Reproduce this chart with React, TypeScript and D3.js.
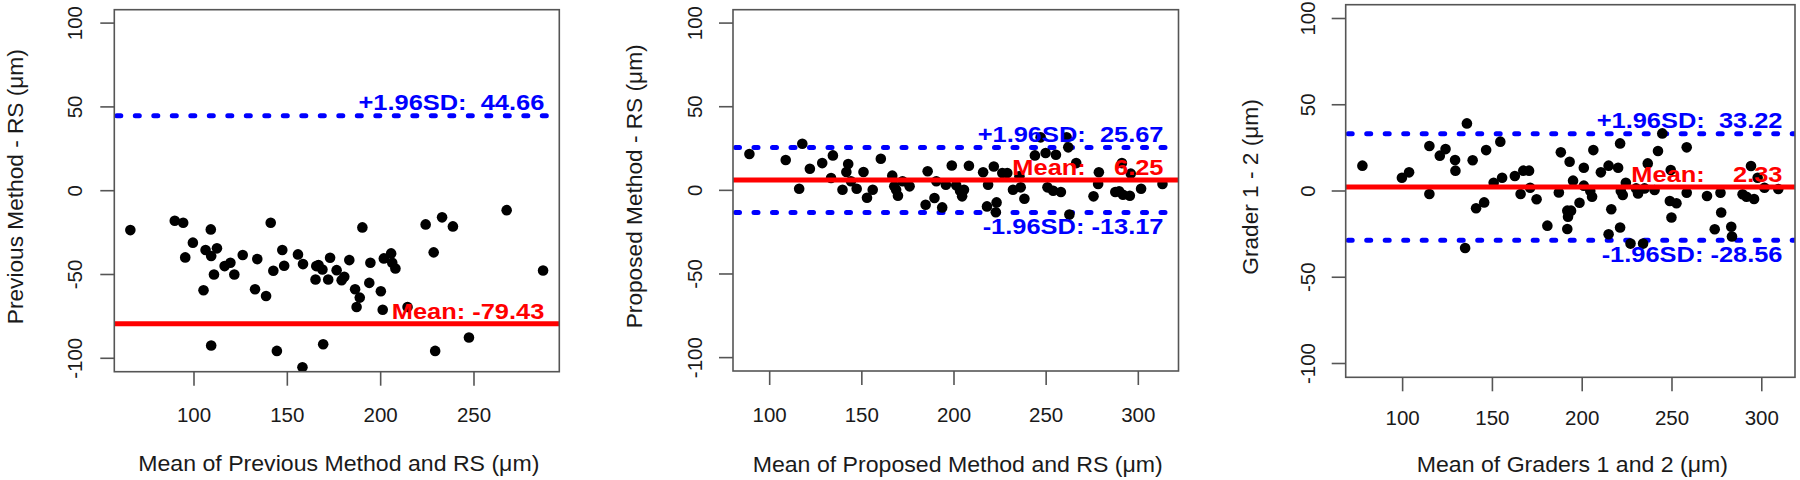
import React from 'react';
import * as d3 from 'd3';

// ---------- data ----------
const p1X = [65.9, 89.7, 94.2, 99.4, 109, 141.1, 190.2, 224.1, 232.9, 238.7, 267.5,
  95.3, 106.2, 109.2, 112.3, 110.7, 105.1, 109.2, 116.4, 119.5, 121.6, 126.1, 133.9, 132.7, 138.6,
  142.5, 147.3, 148.3, 144.4, 155.7, 158.4, 158.1, 165.5, 166.7, 168.8, 165.1, 171.9, 169.2, 172.9,
  176.4, 179.1, 180.5, 183.2, 186.3, 188.8, 187.1, 193.9, 194.5, 200.1, 201.1, 201.7, 205.6, 206.2,
  207.9, 214.4, 228.4, 229.2, 247.3, 287];
const p1Y = [-23.5, -17.9, -19.1, -31, -23.1, -19.1, -21.9, -20.1, -15.9, -21.3, -11.6,
  -39.8, -35.4, -39, -34.4, -50, -59.4, -92.4, -45, -43, -50, -38.4, -40.8, -58.8, -62.8,
  -47.8, -35.4, -44.8, -95.6, -38, -43.8, -105.4, -45, -44.4, -47, -53, -53, -91.6, -40,
  -47.4, -53.4, -51.4, -41.4, -58.8, -63.8, -69.4, -55, -43, -60, -71, -40.4, -37.4, -43,
  -46.4, -69.4, -36.8, -95.6, -87.6, -47.6];

const p2X = [89, 108.7, 116, 117.7, 121.8, 128.5, 133.3, 134.3, 139.5, 142.6, 141.6, 144.1, 147.2,
  150.9, 152.8, 155.9, 160.3, 166.5, 167.6, 168.6, 169.6, 172.1, 175.9, 185.7, 184.6, 189.4, 190.4,
  193.6, 195.6, 198.8, 201.2, 203.3, 204.4, 205.4, 208.1, 215.8, 218.5, 217.9, 223.1, 222.7, 221.6,
  226.2, 228.9, 232, 236.2, 238.2, 235.5, 243.9, 247, 249.7, 250.7, 253.8, 255.3, 258, 261.1, 262,
  262.6, 266.3, 275.7, 278.2, 278.6, 287.5, 289.6, 291.7, 295.4, 291.1, 295.9, 301.5, 313.1];
const p2Y = [21.7, 18.1, 1, 27.9, 12.9, 16.3, 7.4, 20.9, 0.4, 15.7, 11, 5.4, 1,
  11, -4.4, 0.4, 18.9, 8.8, 2.4, 0.4, -3.2, 5.4, 2.4, 11.4, -8.6, -4.6, 5.4,
  -10.2, 3.4, 14.9, 3, -0.2, -3.6, 0.4, 14.7, 10.8, 3.4, -9.6, -7.2, -13.1, 14.3,
  10.4, 10.4, 0.4, 1.8, -5, 8.4, 20.9, 31.7, 22.3, 1.8, -0.2, 21.3, -1, 31.7, 25.7,
  -14.5, 16.3, -3.6, 3.8, 10.8, -1, -0.6, -2.6, -3.2, 16.3, 10, 1, 3.8];

const p3X = [77.6, 99.6, 103.6, 114.9, 114.9, 120.7, 123.9, 129.2, 129.4, 135.8, 139, 140.9, 145.4,
  146.5, 150.7, 154.4, 155.4, 162.5, 165.7, 167.2, 170.4, 171, 174.6, 180.6, 187, 188.1, 193,
  191.7, 192.1, 193.8, 191.7, 194.9, 198.5, 200.9, 200.9, 204.5, 205.5, 206.2, 210.4, 214.7, 216.2,
  214.7, 220, 221.1, 221.1, 221.5, 222.6, 224.3, 230, 231.1, 234.7, 236.5, 240.3, 242.2, 244.6,
  249.3, 248.8, 249.7, 252.5, 258.2, 258.2, 269.5, 273.8, 277, 277.4, 283, 283.4, 289.3, 291.5,
  294, 295.7, 297.7, 301.5, 309.2, 134.8, 226.9, 233.9];
const p3Y = [14.7, 7.7, 10.8, 26.1, -1.7, 20.5, 24.3, 18, 11.8, 39.2, 17.8, -10, -6.6,
  23.7, 4.8, 28.6, 7.7, 8.7, -1.7, 11.8, 11.8, 1.9, -4.8, -20.1, -0.8, 22.4, 17,
  -11.4, -14.9, -11.4, -22, 6, -6.8, 13.5, 3.1, 0, -3.3, 23.7, 10.8, 14.7, -10.6,
  -25.1, 13.5, 27.6, -21.2, 0, -2.3, 4.8, 1.5, -1.4, 1.5, 16, 0.6, 23.2, 33.4,
  12.2, -5.8, -15.4, -7.1, 25.3, -1, -2.9, -22.2, -1, -12.5, -20.7, -26.4, -1.9, -3.3,
  14.5, -4.6, 7.7, 1.9, 1.2, -33, -30.5, -30.5];

const upperSD = [44.66, 25.67, 33.22];
const meanDiff = [-79.43, 6.25, 2.33];
const lowerSD = [-203.52, -13.17, -28.56];
const upperText = ['+1.96SD:  44.66', '+1.96SD:  25.67', '+1.96SD:  33.22'];
const meanText = ['Mean: -79.43', 'Mean:    6.25', 'Mean:    2.33'];
const lowerText = ['-1.96SD: -203.52', '-1.96SD: -13.17', '-1.96SD: -28.56'];
const xTitles = ['Mean of Previous Method and RS (\u03bcm)', 'Mean of Proposed Method and RS (\u03bcm)', 'Mean of Graders 1 and 2 (\u03bcm)'];
const yTitles = ['Previous Method - RS (\u03bcm)', 'Proposed Method - RS (\u03bcm)', 'Grader 1 - 2 (\u03bcm)'];
const xTicks = [[100, 150, 200, 250], [100, 150, 200, 250, 300], [100, 150, 200, 250, 300]];
const yTicks = [-100, -50, 0, 50, 100];
const xDomains = [[57.3, 295.7], [80.1, 321.8], [68.3, 318.5]];
const yDomain = [-108, 108];

// ---------- layout ----------
const layouts = [
  { left: 114.3, right: 559.3, top: 9.7, bottom: 371.7, yLabX: 81.7, yTitleX: 23, tickLabY: 421.7, titleY: 471, labInset: 15 },
  { left: 733, right: 1178.5, top: 9.7, bottom: 371, yLabX: 701.5, yTitleX: 642, tickLabY: 421.7, titleY: 471.5, labInset: 15 },
  { left: 1345.7, right: 1795, top: 4.7, bottom: 377.3, yLabX: 1315, yTitleX: 1258, tickLabY: 425, titleY: 472, labInset: 12.5 },
];

const FONT = "'Liberation Sans', Arial, Helvetica, sans-serif";
const AXIS = '#555';
const TXT = '#1a1a1a';
const LAB_SIZE = 22.5;
const LAB_SX = 1.13;
const TITLE_SIZE = 21.5;
const TITLE_SX = 1.075;

function Label({ x, y, text, color }: { x: number; y: number; text: string; color: string }) {
  return (
    <text
      transform={`translate(${x},${y}) scale(${LAB_SX},1)`}
      textAnchor="end"
      fontFamily={FONT}
      fontWeight="bold"
      fontSize={LAB_SIZE}
      fill={color}
      xmlSpace="preserve"
      style={{ whiteSpace: 'pre' }}
    >
      {text}
    </text>
  );
}

function Panel({ i }: { i: number }) {
  const L = layouts[i];
  const xs = [p1X, p2X, p3X][i];
  const ys = [p1Y, p2Y, p3Y][i];
  const x = d3.scaleLinear().domain(xDomains[i]).range([L.left, L.right]);
  const y = d3.scaleLinear().domain(yDomain).range([L.bottom, L.top]);
  const clipId = `clip${i}`;
  const tick = 14;
  const labRight = L.right - L.labInset;
  const cy = (L.top + L.bottom) / 2 - 4;
  const cx = (L.left + L.right) / 2 + 2;
  const lineGen = d3.line<number>().x((d) => d).y(0);
  return (
    <g>
      <defs>
        <clipPath id={clipId}>
          <rect x={L.left} y={L.top} width={L.right - L.left} height={L.bottom - L.top} />
        </clipPath>
      </defs>
      <g clipPath={`url(#${clipId})`}>
        {[upperSD[i], lowerSD[i]].map((v, k) => (
          <g key={k} transform={`translate(0,${y(v)})`}>
            <path d={lineGen([L.left + 2.5, L.right]) || ''} stroke="#0000ff" strokeWidth={5} strokeDasharray="4 14.5" strokeLinecap="round" fill="none" />
          </g>
        ))}
        {xs.map((v, k) => (
          <circle key={k} cx={x(v)} cy={y(ys[k])} r={5.3} fill="#000" />
        ))}
        <line x1={L.left} x2={L.right} y1={y(meanDiff[i])} y2={y(meanDiff[i])} stroke="#ff0000" strokeWidth={5} />
      </g>
      {y(upperSD[i]) > L.top && <Label x={labRight} y={y(upperSD[i]) - 5.5} text={upperText[i]} color="#0000ff" />}
      <Label x={labRight} y={y(meanDiff[i]) - 5} text={meanText[i]} color="#ff0000" />
      {y(lowerSD[i]) < L.bottom && <Label x={labRight} y={y(lowerSD[i]) + 21.5} text={lowerText[i]} color="#0000ff" />}
      <rect x={L.left} y={L.top} width={L.right - L.left} height={L.bottom - L.top} fill="none" stroke={AXIS} strokeWidth={1.6} />
      {xTicks[i].map((t) => (
        <g key={t}>
          <line x1={x(t)} x2={x(t)} y1={L.bottom} y2={L.bottom + tick} stroke={AXIS} strokeWidth={1.6} />
          <text x={x(t)} y={L.tickLabY} textAnchor="middle" fontFamily={FONT} fontSize={20.5} fill={TXT}>{t}</text>
        </g>
      ))}
      {yTicks.map((t) => (
        <g key={t}>
          <line x1={L.left - tick} x2={L.left} y1={y(t)} y2={y(t)} stroke={AXIS} strokeWidth={1.6} />
          <text transform={`translate(${L.yLabX},${y(t)}) rotate(-90)`} textAnchor="middle" fontFamily={FONT} fontSize={20.5} fill={TXT}>{t}</text>
        </g>
      ))}
      <text transform={`translate(${cx},${L.titleY}) scale(${TITLE_SX},1)`} textAnchor="middle" fontFamily={FONT} fontSize={TITLE_SIZE} fill={TXT}>{xTitles[i]}</text>
      <text transform={`translate(${L.yTitleX},${cy}) rotate(-90) scale(${TITLE_SX - 0.02},1)`} textAnchor="middle" fontFamily={FONT} fontSize={TITLE_SIZE} fill={TXT}>{yTitles[i]}</text>
    </g>
  );
}

export default function App() {
  return (
    <svg width={1800} height={480} style={{ position: 'absolute', left: 0, top: 0, background: '#fff' }}>
      <rect x={0} y={0} width={1800} height={480} fill="#fff" />
      {[0, 1, 2].map((i) => (
        <Panel key={i} i={i} />
      ))}
    </svg>
  );
}
